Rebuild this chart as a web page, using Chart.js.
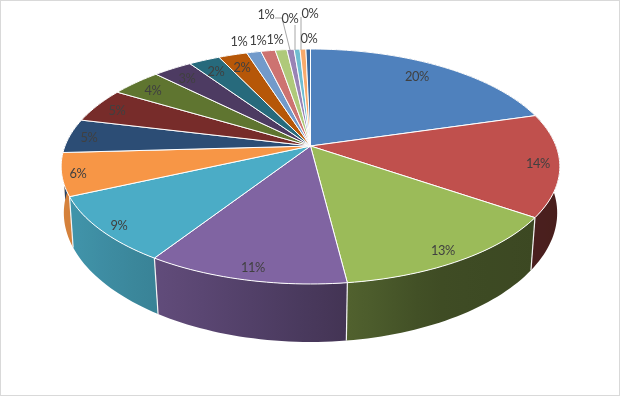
<!DOCTYPE html>
<html>
<head>
<meta charset="utf-8">
<style>
    html, body { margin: 0; padding: 0; background: #fff; }
    #wrap { position: relative; width: 620px; height: 396px; overflow: hidden; }
    #wrap canvas { position: absolute; left: 0; top: 0; }
    #frame { position: absolute; left: 0; top: 0; width: 620px; height: 396px; box-sizing: border-box; border: 1px solid #d9d9d9; }
</style>
</head>
<body>
<div id="wrap">
    <canvas id="pie3d" width="620" height="396"></canvas>
    <div id="frame"></div>
</div>
<script src="https://cdn.jsdelivr.net/npm/chart.js@4"></script>
<script>
/* ================================
   DATA
================================ */
const categories = ['A', 'B', 'C', 'D', 'E', 'F', 'G', 'H', 'I', 'J', 'K', 'L', 'M', 'N', 'O', 'P', 'Q', 'R', 'S'];
const shares = [20.49, 14.1, 13.43, 11.11, 9.1, 5.87, 4.7, 4.8, 3.9, 3.0, 2.4, 2.2, 1.1, 1.1, 0.9, 0.55, 0.45, 0.45, 0.35];

/* ================================
   STYLE & LAYOUT
================================ */
const sliceColors = [
    '#4F81BD', '#C0504D', '#9BBB59', '#8064A2', '#4BACC6', '#F79646', '#2C4D75', '#772C2A', '#5F7530', '#4D3B62',
    '#276A7C', '#B65708', '#729ACA', '#CD7371', '#AFC97A', '#9983B5', '#6FBDD1', '#F9AA6B', '#3A679C'
];
// label centres, same order as the slices
const labelAt = [
    [417, 77], [538, 164], [443, 251], [253, 268], [119, 226], [78, 174], [89, 138], [117, 111], [153, 91], [187, 79],
    [216, 72], [242, 68], [239, 42], [258, 41], [275, 40], [266, 15], [290, 19], [310, 14], [309, 39]
];
// leader lines for the labels that sit away from their slice
const leaders = [
    [[275, 18], [282, 18], [290, 50]],
    [[295, 25], [295, 50]],
    [[301, 17], [301, 50]]
];
// perspective of the top face
const apexX = 310.5, apexY = 146, radiusX = 245.5, radiusY = 113.9, tilt = 0.1745;
// wall brightness by screen x
const wallShade = [[60, 0.87], [155, 0.76], [348, 0.52], [430, 0.41], [560, 0.38]];

function project(theta) {
    const u = Math.sin(theta), v = -Math.cos(theta);
    const w = 1 - tilt * v;
    return [apexX + radiusX * u / w, apexY + radiusY * v / w];
}

// bottom rim is the top rim pushed down and pulled in a little
function drop(p) {
    const k = 0.985 - 0.00014 * (p[1] - 197);
    return [apexX + k * (p[0] - apexX), p[1] + 51 + 0.08 * (p[1] - 197)];
}

function shadeAt(x) {
    if (x <= wallShade[0][0]) return wallShade[0][1];
    for (let i = 1; i < wallShade.length; i++) {
        const [x1, s1] = wallShade[i];
        if (x <= x1) {
            const [x0, s0] = wallShade[i - 1];
            return s0 + (s1 - s0) * (x - x0) / (x1 - x0);
        }
    }
    return wallShade[wallShade.length - 1][1];
}

function darken(hex, k) {
    const n = parseInt(hex.slice(1), 16);
    return `rgb(${Math.round((n >> 16) * k)},${Math.round(((n >> 8) & 255) * k)},${Math.round((n & 255) * k)})`;
}

function rimPoints(arc) {
    const a0 = arc.startAngle + Math.PI / 2, a1 = arc.endAngle + Math.PI / 2;
    const steps = Math.max(2, Math.ceil((a1 - a0) * 40));
    const pts = [];
    for (let i = 0; i <= steps; i++) pts.push(project(a0 + (a1 - a0) * i / steps));
    return pts;
}

/* ================================
   3D PIE DRAWING
================================ */
function drawWall(ctx, pts, color) {
    const low = pts.map(drop);
    const xs = pts.map(p => p[0]);
    const x0 = Math.min(...xs), x1 = Math.max(...xs);
    const grad = ctx.createLinearGradient(x0, 0, Math.max(x1, x0 + 1), 0);
    for (let i = 0; i <= 8; i++) {
        grad.addColorStop(i / 8, darken(color, shadeAt(x0 + (x1 - x0) * i / 8)));
    }
    ctx.beginPath();
    pts.forEach((p, i) => i ? ctx.lineTo(p[0], p[1]) : ctx.moveTo(p[0], p[1]));
    low.reverse().forEach(p => ctx.lineTo(p[0], p[1]));
    ctx.closePath();
    ctx.fillStyle = grad;
    ctx.fill();
}

const perspectivePie = {
    id: 'perspectivePie',
    beforeDatasetsDraw(chart) {
        const ctx = chart.ctx;
        const arcs = chart.getDatasetMeta(0).data;
        const rims = arcs.map(rimPoints);

        ctx.save();
        ctx.lineJoin = 'round';

        // side walls first, the top face hides the far ones
        rims.forEach((pts, i) => drawWall(ctx, pts, sliceColors[i]));
        ctx.strokeStyle = '#f4f4f4';
        ctx.lineWidth = 1.2;
        rims.forEach(pts => {
            const p = pts[0], q = drop(p);
            // only the near half has a visible edge
            if (p[1] < 170) return;
            ctx.beginPath();
            ctx.moveTo(p[0], p[1]);
            ctx.lineTo(q[0], q[1]);
            ctx.stroke();
        });

        // top face
        ctx.strokeStyle = '#ffffff';
        ctx.lineWidth = 1;
        rims.forEach((pts, i) => {
            ctx.beginPath();
            ctx.moveTo(apexX, apexY);
            pts.forEach(p => ctx.lineTo(p[0], p[1]));
            ctx.closePath();
            ctx.fillStyle = sliceColors[i];
            ctx.fill();
            ctx.stroke();
        });

        // leader lines
        ctx.strokeStyle = '#a6a6a6';
        leaders.forEach(line => {
            ctx.beginPath();
            line.forEach((p, i) => i ? ctx.lineTo(p[0], p[1]) : ctx.moveTo(p[0], p[1]));
            ctx.stroke();
        });

        // percentage labels
        const total = shares.reduce((a, b) => a + b, 0);
        ctx.fillStyle = '#404040';
        ctx.font = '12.8px Lato, "Open Sans", sans-serif';
        ctx.letterSpacing = '-0.4px';
        ctx.textAlign = 'center';
        ctx.textBaseline = 'middle';
        shares.forEach((s, i) => {
            ctx.fillText(Math.round(s / total * 100) + '%', labelAt[i][0], labelAt[i][1]);
        });
        ctx.restore();
        return false; // skip the flat arcs
    }
};

new Chart(document.getElementById('pie3d'), {
    type: 'pie',
    data: {
        labels: categories,
        datasets: [{ data: shares, backgroundColor: sliceColors }]
    },
    options: {
        responsive: false,
        animation: false,
        plugins: { legend: { display: false }, tooltip: { enabled: false } }
    },
    plugins: [perspectivePie]
});
</script>
</body>
</html>
